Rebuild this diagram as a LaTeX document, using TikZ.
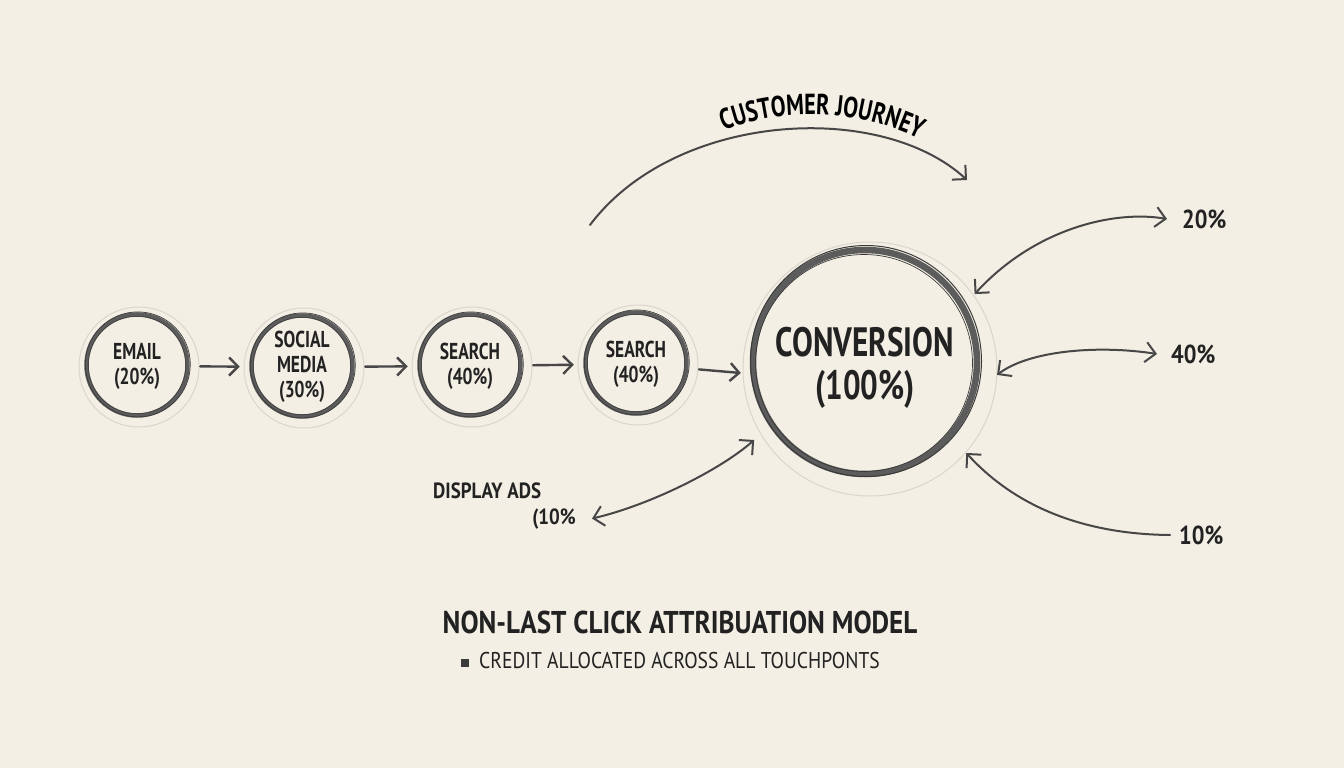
\documentclass[tikz,border=0pt]{standalone}
\usepackage{fontspec}
\newfontfamily\hand[FakeStretch=0.76]{PT Sans}
\newfontfamily\handw[FakeStretch=0.86]{PT Sans}
\usetikzlibrary{arrows.meta,decorations.text,calc}
\definecolor{bg}{HTML}{F3EFE4}
\definecolor{ink}{HTML}{222222}
\definecolor{pencil}{HTML}{474747}
\definecolor{ringc}{HTML}{5C5C5C}
\definecolor{ringd}{HTML}{3A3A3A}
\definecolor{haloc}{HTML}{DAD6CC}
\begin{document}
\begin{tikzpicture}[x=1pt,y=-1pt,
  tp/.style={circle, minimum size=106pt, inner sep=0pt, align=center, text=ink,
    font=\hand\bfseries\fontsize{23}{25}\selectfont},
  convst/.style={circle, minimum size=264pt, inner sep=0pt, align=center, text=ink,
    font=\hand\bfseries\fontsize{41}{43}\selectfont},
  lbl/.style={inner sep=0pt, text=ink, font=\handw\bfseries\fontsize{26}{28}\selectfont},
  dlbl/.style={inner sep=0pt, text=ink, font=\handw\bfseries\fontsize{22}{24}\selectfont},
  halo line/.style={draw=haloc, line width=1pt},
  ringline/.style={draw=ringc},
  ringthin/.style={draw=ringd, line width=0.7pt},
  chain/.style={draw=pencil, line width=2.4pt, line cap=round,
    -{Straight Barb[length=9pt,width=18pt]}, shorten <=10pt, shorten >=9pt},
  darr/.style={draw=pencil, line width=2pt, line cap=round,
    {Straight Barb[length=10pt,width=20pt]}-{Straight Barb[length=10pt,width=20pt]}},
  sarr/.style={draw=pencil, line width=2pt, line cap=round,
    -{Straight Barb[length=10pt,width=20pt]}},
  titlest/.style={inner sep=0pt, text=ink, font=\handw\bfseries\fontsize{31.5}{34}\selectfont},
  subst/.style={inner sep=0pt, text=ink, font=\handw\fontsize{22.8}{26}\selectfont}
]
\useasboundingbox (0,0) rectangle (1344,768);
\fill[bg] (0,0) rectangle (1344,768);

% touchpoint nodes
\node[tp] (email) at (137,366) {EMAIL\\(20\%)};
\node[tp] (social) at (302,367) {SOCIAL\\MEDIA\\(30\%)};
\node[tp] (search1) at (470,366) {SEARCH\\(40\%)};
\node[tp] (search2) at (636,364) {SEARCH\\(40\%)};
\node[convst] (conv) at (865,368) {CONVERSION\\(100\%)};

% pencil rings
\foreach \n in {email,social,search1,search2}{
  \draw[halo line] ([shift={(2,1)}]\n.center) circle (60);
  \draw[ringline, line width=4.5pt] ([shift={(0,-1)}]\n.center) circle (50.5);
  \draw[ringthin] ([shift={(0.8,-1.6)}]\n.center) circle (52.5);
  \draw[ringthin, line width=0.5pt] ([shift={(0,-1)}]\n.center) circle (48.8);
}
\draw[halo line] ([shift={(5,1)}]conv.center) circle (127);
\draw[ringline, line width=6.5pt] ([shift={(0,-6)}]conv.center) circle (112);
\draw[ringthin, line width=1pt] ([shift={(1,-7)}]conv.center) circle (115.5);
\draw[ringthin] ([shift={(-1,-5)}]conv.center) circle (108.5);

% chain arrows
\draw[chain] (email) -- (social);
\draw[chain] (social) -- (search1);
\draw[chain] (search1) -- (search2);
\draw[chain, shorten >=0pt] (search2) -- ([xshift=8pt,yshift=-5pt]conv.west);

% customer journey
\coordinate (cjs) at (590,225);
\coordinate (cje) at (967,180);
\draw[sarr] (cjs) .. controls (675,112) and (880,100) .. (cje);
\path[color=ink, decorate, decoration={text along path, text align=center,
  text={|\hand\bfseries\fontsize{29}{31}\selectfont|CUSTOMER JOURNEY}}]
  (704,140) .. controls (770,104) and (872,106) .. (938,150);

% percentage labels
\node[lbl, anchor=west] (p20) at (1182,219) {20\%};
\node[lbl, anchor=west] (p40) at (1171,354) {40\%};
\node[lbl, anchor=west] (p10) at (1179,535) {10\%};
\node[dlbl, anchor=base west] (dads) at (433,498) {DISPLAY ADS};
\node[dlbl, anchor=base east] (d10) at (576,524) {(10\%};

\draw[darr] (conv.34) .. controls (1035,228) and (1115,210) .. ([xshift=-15pt]p20.west);
\draw[darr] (conv.-3) .. controls (1030,350) and (1100,345) .. ([xshift=-14pt]p40.west);
\draw[sarr] ([xshift=-9pt]p10.west) .. controls (1060,534) and (1000,490) .. (conv.-40);
\draw[darr] (conv.213) .. controls (720,470) and (650,505) .. ([xshift=16pt]d10.east);

% title
\node[titlest, anchor=base] (title) at (680,633) {NON-LAST CLICK ATTRIBUATION MODEL};
\node[subst, anchor=base west] (sub) at (461,668)
  {\textcolor{ringd}{\rule[1pt]{8pt}{8pt}}\hspace{10pt}CREDIT ALLOCATED ACROSS ALL TOUCHPONTS};
\end{tikzpicture}
\end{document}
